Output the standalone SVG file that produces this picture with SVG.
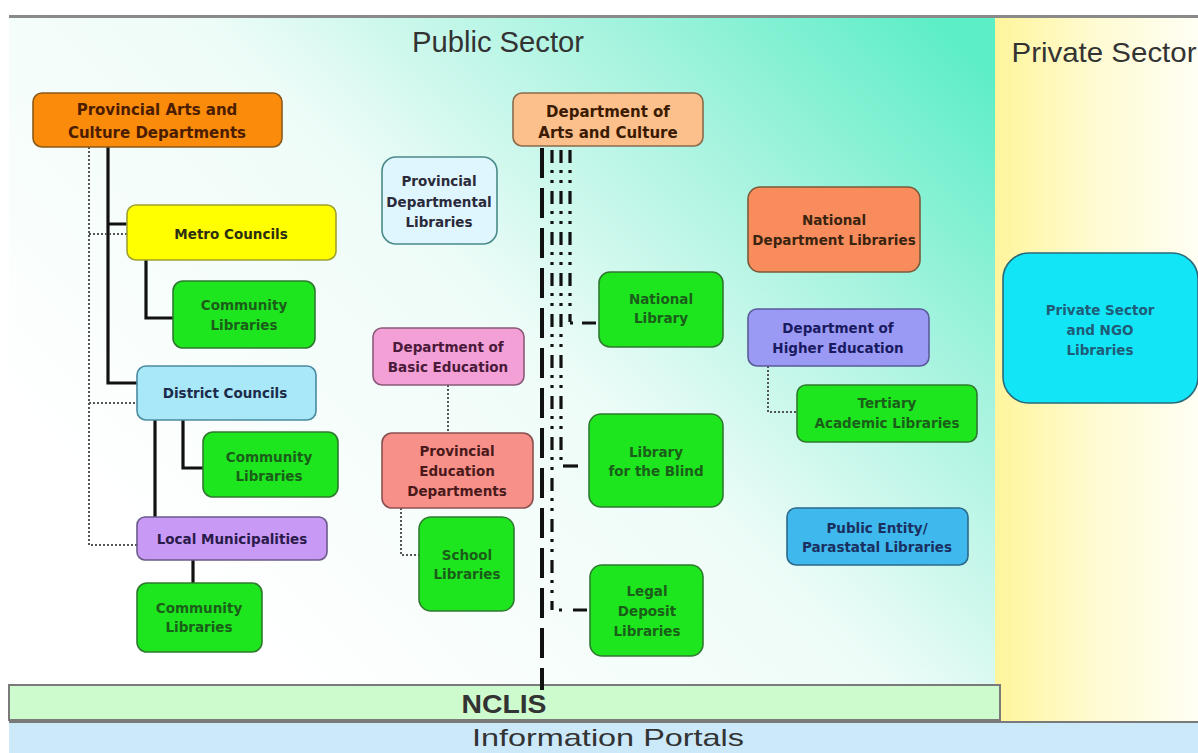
<svg xmlns="http://www.w3.org/2000/svg" width="1198" height="753" viewBox="0 0 1198 753">
  <defs>
    <linearGradient id="pubBg" gradientUnits="userSpaceOnUse" x1="300" y1="700" x2="950" y2="30">
      <stop offset="0" stop-color="#ffffff"/>
      <stop offset="0.45" stop-color="#eefcf8"/>
      <stop offset="0.75" stop-color="#a4f3de"/>
      <stop offset="1" stop-color="#5ceec6"/>
    </linearGradient>
    <linearGradient id="privBg" x1="0" y1="0" x2="1" y2="0">
      <stop offset="0" stop-color="#fff59c"/>
      <stop offset="0.5" stop-color="#fffbd2"/>
      <stop offset="1" stop-color="#fffff4"/>
    </linearGradient>
    <style>
      .node rect { stroke-width: 1.6; }
      .t { font-family: "DejaVu Sans", Verdana, sans-serif; font-weight: bold; font-size: 13.5px; text-anchor: middle; }
      .big { font-size: 15px; }
      .green rect { fill: #1ee61e; stroke: #2f7a2f; }
      .green text { fill: #1a5e1a; }
      .solid { stroke: #111; stroke-width: 3.2; fill: none; }
      .dot { stroke: #555; stroke-width: 2; stroke-dasharray: 2 2; fill: none; }
      .chainA { stroke: #111; stroke-width: 4; stroke-dasharray: 30 10; fill: none; }
      .chainB { stroke: #111; stroke-width: 3.2; stroke-dasharray: 13 7 3 7 3 8; fill: none; }
      .title { font-family: "Liberation Sans", Arial, sans-serif; fill: #333; }
    </style>
  </defs>

  <!-- backgrounds -->
  <rect x="0" y="0" width="1198" height="753" fill="#ffffff"/>
  <rect x="9" y="18" width="986" height="668" fill="url(#pubBg)"/>
  <rect x="995" y="18" width="203" height="704" fill="url(#privBg)"/>
  <rect x="9" y="15" width="1189" height="3" fill="#8a8a8a"/>

  <text class="title" x="498" y="52" font-size="29" text-anchor="middle" textLength="172" lengthAdjust="spacingAndGlyphs">Public Sector</text>
  <text class="title" x="1104" y="62" font-size="28" text-anchor="middle" textLength="185" lengthAdjust="spacingAndGlyphs">Private Sector</text>

  <!-- bars -->
  <g id="nclis">
    <rect x="9" y="685" width="991" height="35" fill="#cdfbcd" stroke="#7a7a7a" stroke-width="2"/>
    <text class="title" x="504" y="713" font-size="25" font-weight="bold" fill="#111" text-anchor="middle" textLength="85" lengthAdjust="spacingAndGlyphs">NCLIS</text>
  </g>
  <g id="portals">
    <rect x="9" y="722" width="1189" height="31" fill="#cce9fa"/>
    <rect x="9" y="721" width="1189" height="2" fill="#7a7a7a"/>
    <text class="title" x="608" y="746" font-size="24" fill="#111" text-anchor="middle" textLength="272" lengthAdjust="spacingAndGlyphs">Information Portals</text>
  </g>

  <!-- connectors -->
  <g id="connectors">
    <!-- left solid hierarchy -->
    <path class="solid" d="M108 147 V383 H137 M108 224 H127"/>
    <path class="solid" d="M146 260 V318 H174"/>
    <path class="solid" d="M183 420 V468 H203"/>
    <path class="solid" d="M155 420 V517"/>
    <path class="solid" d="M193 560 V583"/>
    <!-- left dotted -->
    <path class="dot" d="M89 147 V545 H137 M89 234 H127 M89 403 H137"/>
    <!-- education dotted -->
    <path class="dot" d="M448 385 V433"/>
    <path class="dot" d="M401 508 V555 H419"/>
    <!-- higher education dotted -->
    <path class="dot" d="M768 366 V412 H797"/>
    <!-- arts & culture chains -->
    <path class="chainA" d="M542 148 V690"/>
    <path class="chainB" d="M552 150 V610"/>
    <path class="chainB" d="M561 150 V460"/>
    <path class="chainB" d="M570 150 V322"/>
    <path class="solid" stroke-dasharray="3 9 14" d="M570 323 H599"/>
    <path class="solid" d="M563 466 H578"/>
    <path class="solid" stroke-dasharray="3 11 14" d="M559 610 H590"/>
  </g>

  <!-- nodes -->
  <g id="provincial-arts" class="node">
    <rect x="33" y="93" width="249" height="54" rx="9" fill="#fb8b0a" stroke="#8a5a1a"/>
    <text class="t big" x="157" fill="#4a1c00"><tspan x="157" y="115">Provincial Arts and</tspan><tspan x="157" y="138">Culture Departments</tspan></text>
  </g>
  <g id="metro" class="node">
    <rect x="127" y="205" width="209" height="55" rx="9" fill="#ffff00" stroke="#a0a030"/>
    <text class="t" x="231" y="239" fill="#2e2e10">Metro Councils</text>
  </g>
  <g id="community1" class="node green">
    <rect x="173" y="281" width="142" height="67" rx="10"/>
    <text class="t" x="244"><tspan x="244" y="310">Community</tspan><tspan x="244" y="330">Libraries</tspan></text>
  </g>
  <g id="district" class="node">
    <rect x="137" y="366" width="179" height="54" rx="9" fill="#a8e8f8" stroke="#4a8aa0"/>
    <text class="t" x="225" y="398" fill="#1c2b4a">District Councils</text>
  </g>
  <g id="community2" class="node green">
    <rect x="203" y="432" width="135" height="65" rx="10"/>
    <text class="t" x="269"><tspan x="269" y="462">Community</tspan><tspan x="269" y="481">Libraries</tspan></text>
  </g>
  <g id="local" class="node">
    <rect x="137" y="517" width="190" height="43" rx="8" fill="#c89af5" stroke="#6a5a8a"/>
    <text class="t" x="232" y="544" fill="#2a1a4a">Local Municipalities</text>
  </g>
  <g id="community3" class="node green">
    <rect x="137" y="583" width="125" height="69" rx="10"/>
    <text class="t" x="199"><tspan x="199" y="613">Community</tspan><tspan x="199" y="632">Libraries</tspan></text>
  </g>
  <g id="prov-dept-libraries" class="node">
    <rect x="382" y="157" width="115" height="87" rx="14" fill="#e0f6ff" stroke="#4a8a8a"/>
    <text class="t" x="439" fill="#2a2a3a"><tspan x="439" y="186">Provincial</tspan><tspan x="439" y="207">Departmental</tspan><tspan x="439" y="227">Libraries</tspan></text>
  </g>
  <g id="dac" class="node">
    <rect x="513" y="93" width="190" height="53" rx="9" fill="#fcc08c" stroke="#8a6a4a"/>
    <text class="t big" x="608" fill="#3a1a00"><tspan x="608" y="117">Department of</tspan><tspan x="608" y="138">Arts and Culture</tspan></text>
  </g>
  <g id="basic-ed" class="node">
    <rect x="373" y="328" width="151" height="57" rx="9" fill="#f3a0d6" stroke="#8a5a7a"/>
    <text class="t" x="448" fill="#4a1a3a"><tspan x="448" y="352">Department of</tspan><tspan x="448" y="372">Basic Education</tspan></text>
  </g>
  <g id="prov-ed" class="node">
    <rect x="382" y="433" width="151" height="75" rx="10" fill="#f8908a" stroke="#8a5050"/>
    <text class="t" x="457" fill="#4a1a1a"><tspan x="457" y="456">Provincial</tspan><tspan x="457" y="476">Education</tspan><tspan x="457" y="496">Departments</tspan></text>
  </g>
  <g id="school" class="node green">
    <rect x="419" y="517" width="95" height="94" rx="12"/>
    <text class="t" x="467"><tspan x="467" y="560">School</tspan><tspan x="467" y="579">Libraries</tspan></text>
  </g>
  <g id="national-library" class="node green">
    <rect x="599" y="272" width="124" height="75" rx="11"/>
    <text class="t" x="661"><tspan x="661" y="304">National</tspan><tspan x="661" y="323">Library</tspan></text>
  </g>
  <g id="blind" class="node green">
    <rect x="589" y="414" width="134" height="93" rx="12"/>
    <text class="t" x="656"><tspan x="656" y="457">Library</tspan><tspan x="656" y="476">for the Blind</tspan></text>
  </g>
  <g id="legal" class="node green">
    <rect x="590" y="565" width="113" height="91" rx="12"/>
    <text class="t" x="647"><tspan x="647" y="596">Legal</tspan><tspan x="647" y="616">Deposit</tspan><tspan x="647" y="636">Libraries</tspan></text>
  </g>
  <g id="national-dept" class="node">
    <rect x="748" y="187" width="172" height="85" rx="12" fill="#f88c5c" stroke="#7a5a3a"/>
    <text class="t" x="834" fill="#3a2410"><tspan x="834" y="225">National</tspan><tspan x="834" y="245">Department Libraries</tspan></text>
  </g>
  <g id="higher-ed" class="node">
    <rect x="748" y="309" width="181" height="57" rx="9" fill="#9a9af5" stroke="#5a5a9a"/>
    <text class="t" x="838" fill="#1a1a60"><tspan x="838" y="333">Department of</tspan><tspan x="838" y="353">Higher Education</tspan></text>
  </g>
  <g id="tertiary" class="node green">
    <rect x="797" y="385" width="180" height="57" rx="9"/>
    <text class="t" x="887"><tspan x="887" y="408">Tertiary</tspan><tspan x="887" y="428">Academic Libraries</tspan></text>
  </g>
  <g id="public-entity" class="node">
    <rect x="787" y="508" width="181" height="57" rx="9" fill="#3fb8ee" stroke="#2a6a8a"/>
    <text class="t" x="877" fill="#1a3060"><tspan x="877" y="533">Public Entity/</tspan><tspan x="877" y="552">Parastatal Libraries</tspan></text>
  </g>
  <g id="private" class="node">
    <rect x="1003" y="253" width="195" height="150" rx="26" fill="#12e6f6" stroke="#2a6a7a"/>
    <text class="t" x="1100" fill="#1f5c78"><tspan x="1100" y="315">Private Sector</tspan><tspan x="1100" y="335">and NGO</tspan><tspan x="1100" y="355">Libraries</tspan></text>
  </g>
</svg>
